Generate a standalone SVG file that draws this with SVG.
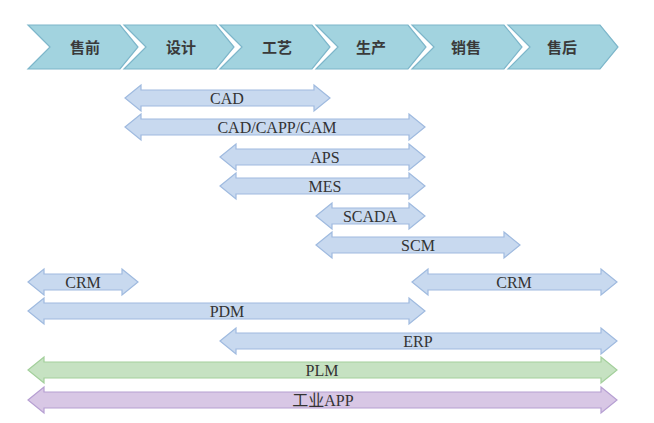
<svg xmlns="http://www.w3.org/2000/svg" width="654" height="423" viewBox="0 0 654 423">
<style>
.chev{fill:#a2d3df;stroke:#7db6ca;stroke-width:1.2}
.ct{font-family:"Noto Sans CJK SC",sans-serif;font-size:15px;font-weight:bold;fill:#3a3a3a;text-anchor:middle}
.ab{fill:#c8d9ef;stroke:#9fbadf;stroke-width:1.2}
.ag{fill:#c6e2c2;stroke:#a3cf9b;stroke-width:1.2}
.ap{fill:#d8c7e5;stroke:#b69fd2;stroke-width:1.2}
.at{font-family:"Liberation Serif","Noto Sans CJK SC",serif;font-size:16px;fill:#333;text-anchor:middle}
</style>
<rect width="654" height="423" fill="#fff"/>
<g id="stages">
<g id="s1"><path class="chev" d="M28,25 L120,25 L138,47 L120,69 L28,69 L50,47 Z"/><text class="ct" x="85" y="52.5">售前</text></g>
<g id="s2"><path class="chev" d="M124,25 L216,25 L234,47 L216,69 L124,69 L146,47 Z"/><text class="ct" x="181" y="52.5">设计</text></g>
<g id="s3"><path class="chev" d="M220,25 L312,25 L330,47 L312,69 L220,69 L242,47 Z"/><text class="ct" x="277" y="52.5">工艺</text></g>
<g id="s4"><path class="chev" d="M316,25 L408,25 L426,47 L408,69 L316,69 L338,47 Z"/><text class="ct" x="371" y="52.5">生产</text></g>
<g id="s5"><path class="chev" d="M412,25 L504,25 L522,47 L504,69 L412,69 L434,47 Z"/><text class="ct" x="466" y="52.5">销售</text></g>
<g id="s6"><path class="chev" d="M508,25 L600,25 L618,47 L600,69 L508,69 L530,47 Z"/><text class="ct" x="562" y="52.5">售后</text></g>
</g>
<g id="connectors">
<g id="cad"><path class="ab" d="M125,98 L141,85 L141,90 L314,90 L314,85 L330,98 L314,111 L314,106 L141,106 L141,111 Z"/><text class="at" x="227" y="103.5">CAD</text></g>
<g id="cadcam"><path class="ab" d="M125,127 L141,114 L141,119 L409,119 L409,114 L425,127 L409,140 L409,135 L141,135 L141,140 Z"/><text class="at" x="277" y="132.5">CAD/CAPP/CAM</text></g>
<g id="aps"><path class="ab" d="M220,157 L236,144 L236,149 L409,149 L409,144 L425,157 L409,170 L409,165 L236,165 L236,170 Z"/><text class="at" x="325" y="162.5">APS</text></g>
<g id="mes"><path class="ab" d="M220,186 L236,173 L236,178 L409,178 L409,173 L425,186 L409,199 L409,194 L236,194 L236,199 Z"/><text class="at" x="325" y="191.5">MES</text></g>
<g id="scada"><path class="ab" d="M316,216 L332,203 L332,208 L409,208 L409,203 L425,216 L409,229 L409,224 L332,224 L332,229 Z"/><text class="at" x="370" y="221.5">SCADA</text></g>
<g id="scm"><path class="ab" d="M316,245 L332,232 L332,237 L504,237 L504,232 L520,245 L504,258 L504,253 L332,253 L332,258 Z"/><text class="at" x="418" y="250.5">SCM</text></g>
<g id="crm1"><path class="ab" d="M28,282 L44,269 L44,274 L122,274 L122,269 L138,282 L122,295 L122,290 L44,290 L44,295 Z"/><text class="at" x="83" y="287.5">CRM</text></g>
<g id="crm2"><path class="ab" d="M412,282 L428,269 L428,274 L601,274 L601,269 L617,282 L601,295 L601,290 L428,290 L428,295 Z"/><text class="at" x="514" y="287.5">CRM</text></g>
<g id="pdm"><path class="ab" d="M28,311 L44,298 L44,303 L409,303 L409,298 L425,311 L409,324 L409,319 L44,319 L44,324 Z"/><text class="at" x="227" y="316.5">PDM</text></g>
<g id="erp"><path class="ab" d="M220,341 L236,328 L236,333 L601,333 L601,328 L617,341 L601,354 L601,349 L236,349 L236,354 Z"/><text class="at" x="418" y="346.5">ERP</text></g>
<g id="plm"><path class="ag" d="M28,370 L44,357 L44,362 L601,362 L601,357 L617,370 L601,383 L601,378 L44,378 L44,383 Z"/><text class="at" x="322" y="375.5">PLM</text></g>
<g id="app"><path class="ap" d="M28,400 L44,387 L44,392 L601,392 L601,387 L617,400 L601,413 L601,408 L44,408 L44,413 Z"/><text class="at" x="323" y="405.5">工业APP</text></g>
</g>
</svg>
